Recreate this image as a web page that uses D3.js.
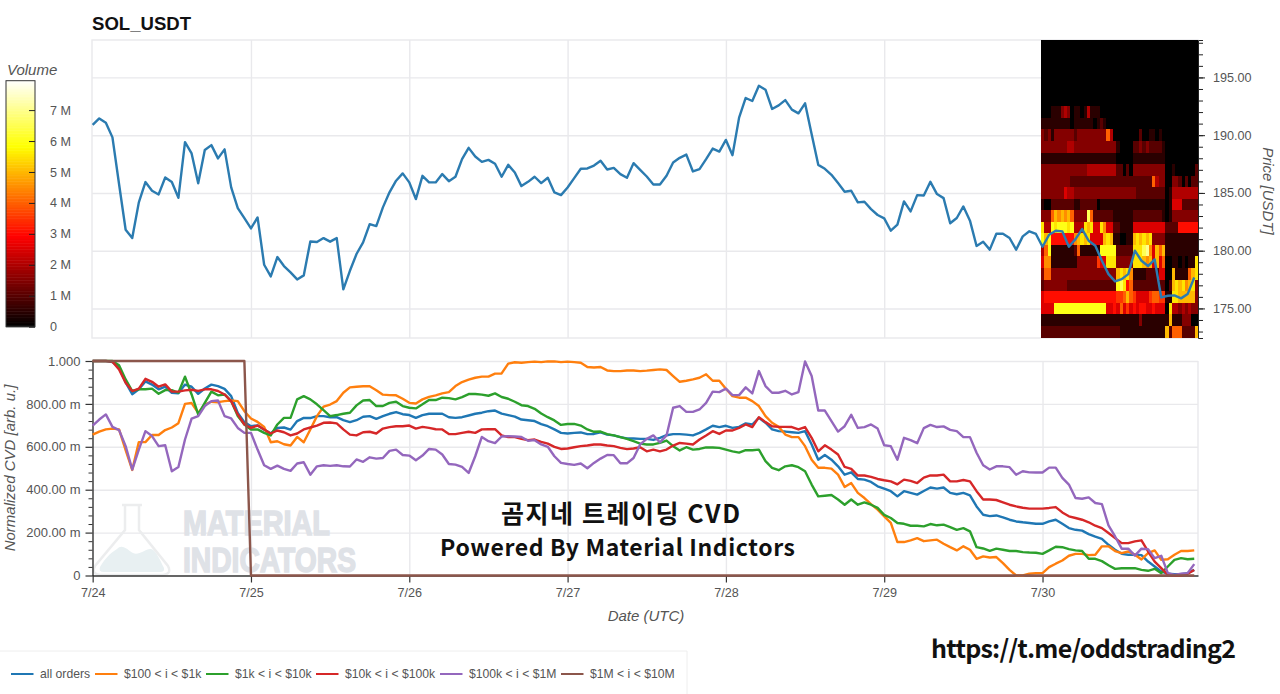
<!DOCTYPE html>
<html>
<head>
<meta charset="utf-8">
<script src="https://cdn.jsdelivr.net/npm/d3@7"></script>
<style>
  body { margin: 0; background: #fff; }
  svg { display: block; font-family: "Liberation Sans", Arial, sans-serif; }
</style>
</head>
<body>
<svg id="chart" width="1280" height="694"></svg>
<script>
const dayLabels = ['7/24', '7/25', '7/26', '7/27', '7/28', '7/29', '7/30']
const dayHours = [0, 24, 48, 72, 96, 120, 144]
const priceTicks = [175, 180, 185, 190, 195]
const priceMinorTicks = [173, 174, 175, 176, 177, 178, 179, 180, 181, 182, 183, 184, 185, 186, 187, 188, 189, 190, 191, 192, 193, 194, 195, 196, 197, 198]
const cvdTicks = [0, 0.2, 0.4, 0.6, 0.8, 1]
const cvdTickLabels = ['0', '200.00 m', '400.00 m', '600.00 m', '800.00 m', '1.000']
const cvdMinorTicks = [0.04, 0.08, 0.12, 0.16, 0.24, 0.28, 0.32, 0.36, 0.44, 0.48, 0.52, 0.56, 0.64, 0.68, 0.72, 0.76, 0.84, 0.88, 0.92, 0.96]
const volumeTicks = [0, 1, 2, 3, 4, 5, 6, 7]
const volumeLabels = ['0', '1 M', '2 M', '3 M', '4 M', '5 M', '6 M', '7 M']

// hourly close
const price = [
  190.90, 191.45, 191.08, 189.81, 185.77, 181.81, 181.09, 184.18, 185.94, 185.19,
  184.87, 186.34, 185.94, 184.58, 189.40, 188.42, 185.83, 188.71, 189.14, 187.99,
  188.77, 185.48, 183.69, 182.82, 181.93, 182.88, 178.78, 177.77, 179.45, 178.67,
  178.12, 177.51, 177.86, 180.80, 180.75, 181.09, 180.78, 181.09, 176.65, 178.26,
  179.71, 180.72, 182.30, 182.13, 183.75, 185.05, 186.06, 186.69, 185.91, 184.47,
  186.48, 185.91, 185.91, 186.63, 186.02, 186.40, 187.92, 188.90, 188.15, 187.69,
  187.86, 187.52, 186.40, 187.43, 186.77, 185.59, 185.96, 186.40, 185.85, 186.31,
  185.04, 184.81, 185.47, 186.28, 187.09, 187.12, 187.37, 187.78, 187.03, 187.17,
  186.63, 186.31, 187.58, 187.00, 186.42, 185.73, 185.73, 186.48, 187.63, 188.04,
  188.32, 186.86, 187.06, 187.92, 188.84, 188.58, 189.59, 188.27, 191.52, 193.22,
  192.96, 194.28, 193.94, 192.27, 192.58, 193.04, 192.21, 191.89, 192.76, 190.08,
  187.43, 187.09, 186.57, 185.85, 185.10, 185.19, 184.18, 184.24, 183.60, 183.09,
  182.80, 181.73, 182.25, 184.27, 183.40, 184.81, 184.78, 185.96, 184.90, 184.55,
  182.37, 182.83, 183.83, 182.60, 180.41, 180.78, 180.09, 181.47, 181.47, 181.10,
  180.09, 181.24, 181.68, 181.45, 180.34, 181.38, 181.72, 181.67, 180.34, 181.00,
  181.87, 180.86, 180.43, 179.13, 177.97, 177.34, 177.54, 177.97, 180.00, 179.13,
  178.67, 179.24, 175.95, 176.10, 176.13, 175.87, 176.24, 177.68
]

const allOrders = [
  1, 1, 1, .995, .97, .9, .845, .868, .905, .89, .868, .88, .852, .849, .89, .88, .847, .872, .89, .883,
  .87, .836, .758, .715, .696, .7, .68, .662, .688, .69, .68, .72, .735, .734, .743, .743, .738, .738, .724, .715,
  .724, .74, .743, .73, .743, .754, .762, .752, .748, .735,
  .748, .754, .754, .754, .738, .735, .738, .746, .754, .759, .766, .769, .755, .748, .741, .727, .724, .72, .706, .696,
  .681, .665, .662, .665, .667, .659, .66, .667, .657, .653, .645, .639, .639, .637, .637, .632, .642, .654, .659, .659,
  .657, .653, .665, .681, .698, .692, .698, .688, .693, .709, .704, .735, .712, .681, .673, .671, .668, .665, .673, .611, .54,
  .562, .54, .509, .47, .481, .45, .447, .436, .416, .405, .393, .369, .393, .385, .377, .394, .41, .405, .41, .385,
  .379, .385, .374, .322, .283, .277, .28, .271, .26, .252, .248, .245, .241, .241, .252, .26, .241, .221, .213, .209,
  .193, .181, .171, .143, .12, .101, .097, .097, .095, .065, .042, .019, .008, .006, .006, .011, .026
]
const orders100to1k = [
  .657, .671, .681, .685, .681, .585, .492, .622, .622, .655, .655, .678, .69, .71, .8, .804, .758, .797, .81, .808,
  .813, .816, .813, .766, .732, .716, .693, .621, .626, .612, .606, .646, .621, .681, .743, .787, .797, .813, .852, .877,
  .88, .882, .882, .864, .843, .841, .84, .824, .805, .802,
  .821, .833, .84, .849, .855, .883, .902, .913, .922, .927, .927, .941, .942, .988, .994, .992, .995, .997, .995, .998,
  .998, .995, .997, .995, .992, .972, .97, .972, .956, .953, .953, .956, .956, .953, .955, .958, .961, .958, .93, .903,
  .908, .914, .922, .938, .908, .908, .871, .836, .829, .829, .813, .79, .743, .712, .693, .657, .645, .645, .603, .54, .502,
  .502, .498, .47, .413, .431, .385, .361, .333, .307, .276, .245, .156, .156, .164, .174, .16, .164, .167, .148, .132,
  .117, .136, .12, .078, .089, .084, .086, .058, .026, 0, 0, .008, .011, .011, .039, .055, .07, .092, .101, .101,
  .095, .097, .136, .136, .114, .104, .112, .097, .075, .104, .117, .073, .076, .097, .114, .114, .117
]
const orders1kto10k = [
  1, 1, 1, 1, .98, .914, .86, .868, .868, .871, .847, .864, .864, .852, .927, .844, .751, .805, .857, .84,
  .844, .813, .743, .704, .681, .681, .665, .653, .704, .735, .735, .821, .836, .821, .798, .771, .743, .748, .754, .759,
  .793, .816, .818, .79, .79, .805, .81, .79, .782, .779,
  .798, .818, .818, .829, .827, .821, .832, .846, .846, .843, .838, .849, .832, .824, .81, .794, .79, .777, .755, .738,
  .723, .702, .706, .707, .699, .681, .67, .671, .659, .653, .645, .637, .626, .615, .611, .611, .618, .629, .603, .583,
  .598, .587, .59, .597, .597, .595, .587, .579, .573, .584, .584, .587, .533, .502, .491, .509, .514, .505, .486, .424, .369,
  .372, .375, .354, .33, .354, .33, .341, .33, .315, .283, .268, .245, .241, .232, .232, .229, .24, .234, .237, .226,
  .213, .221, .206, .132, .126, .115, .125, .12, .114, .114, .109, .107, .106, .101, .117, .134, .132, .123, .117, .114,
  .078, .078, .067, .048, .031, .034, .034, .034, .026, .022, .031, .011, .042, .073, .081, .076, .078
]
const orders10kto100k = [
  1, 1, 1, .997, .961, .899, .86, .871, .917, .903, .88, .891, .857, .857, .863, .866, .861, .868, .868, .86,
  .844, .813, .751, .704, .688, .699, .681, .662, .676, .668, .653, .662, .681, .69, .699, .712, .713, .709, .681, .657,
  .653, .668, .67, .662, .685, .692, .696, .696, .699, .685,
  .693, .688, .682, .681, .66, .659, .665, .67, .665, .681, .682, .682, .653, .645, .645, .637, .631, .634, .623, .615,
  .6, .59, .592, .598, .603, .606, .611, .611, .606, .603, .595, .589, .592, .598, .579, .587, .579, .587, .606, .618,
  .615, .611, .634, .653, .673, .66, .676, .676, .688, .704, .692, .738, .715, .696, .693, .693, .692, .681, .692, .642, .579,
  .607, .587, .564, .506, .497, .466, .466, .46, .45, .444, .439, .425, .447, .441, .431, .456, .467, .466, .47, .439,
  .439, .445, .439, .393, .354, .354, .352, .341, .33, .322, .316, .312, .312, .312, .315, .319, .294, .276, .268, .26,
  .248, .232, .221, .198, .174, .151, .151, .159, .164, .112, .065, .034, .003, 0, 0, .008, .026
]
const orders100kto1M = [
  .699, .727, .751, .693, .678, .603, .494, .587, .673, .65, .603, .607, .486, .506, .634, .731, .743, .79, .813, .816,
  .743, .732, .688, .665, .665, .587, .514, .497, .512, .497, .488, .522, .528, .47, .509, .514, .511, .514, .509, .508,
  .541, .53, .551, .545, .548, .581, .587, .562, .559, .537,
  .559, .59, .587, .564, .52, .517, .506, .478, .556, .646, .626, .617, .648, .65, .648, .646, .628, .631, .611, .6,
  .556, .525, .52, .516, .522, .5, .525, .545, .562, .561, .523, .523, .548, .611, .637, .653, .621, .653, .782, .79,
  .763, .763, .774, .805, .857, .855, .871, .841, .841, .877, .849, .953, .883, .852, .852, .861, .844, .855, .998, .93, .769,
  .769, .72, .671, .696, .749, .688, .692, .704, .685, .607, .603, .54, .642, .631, .617, .687, .702, .692, .695, .679,
  .673, .645, .645, .572, .514, .494, .509, .509, .505, .47, .486, .481, .48, .48, .503, .503, .455, .424, .361, .358,
  .364, .338, .333, .234, .182, .125, .125, .093, .125, .123, .081, .092, .011, .003, .008, .011, .053
]
const orders1Mto10M = [
  1, 1, 1, 1, 1, 1, 1, 1, 1, 1, 1, 1, 1, 1, 1, 1, 1, 1, 1, 1, 1, 1, 1, 1,
  0, 0, 0, 0, 0, 0, 0, 0, 0, 0, 0, 0, 0, 0, 0, 0, 0, 0, 0, 0, 0, 0, 0, 0,
  0, 0, 0, 0, 0, 0, 0, 0, 0, 0, 0, 0, 0, 0, 0, 0, 0, 0, 0, 0, 0, 0, 0, 0,
  0, 0, 0, 0, 0, 0, 0, 0, 0, 0, 0, 0, 0, 0, 0, 0, 0, 0, 0, 0, 0, 0, 0, 0,
  0, 0, 0, 0, 0, 0, 0, 0, 0, 0, 0, 0, 0, 0, 0, 0, 0, 0, 0, 0, 0, 0, 0, 0,
  0, 0, 0, 0, 0, 0, 0, 0, 0, 0, 0, 0, 0, 0, 0, 0, 0, 0, 0, 0, 0, 0, 0, 0,
  0, 0, 0, 0, 0, 0, 0, 0, 0, 0, 0, 0, 0, 0, 0, 0, 0, 0, 0, 0, 0, 0, 0, 0
]
const seriesNames = ['all orders', '$100 < i < $1k', '$1k < i < $10k', '$10k < i < $100k', '$100k < i < $1M', '$1M < i < $10M']
const seriesColors = ['#1f77b4', '#ff7f0e', '#2ca02c', '#d62728', '#9467bd', '#8c564b']
const seriesValues = [allOrders, orders100to1k, orders1kto10k, orders10kto100k, orders100kto1M, orders1Mto10M]

// order book heatmap: price level of each row, one hex digit per half hour (unit = 0.5 M)
const heatPrices = [198, 197, 196, 195, 194, 193, 192, 191, 190, 189, 188, 187, 186, 185, 184, 183, 182, 181, 180, 179, 178, 177, 176, 175, 174, 173, 172]
const heatRows = [
  '000000000000 000000000000 000000000000 000000000000',
  '000000000000 000000000000 000000000000 000000000000',
  '000000000000 000000000000 000000000000 000000000000',
  '000000000000 000000000000 000000000000 000000000000',
  '000000000000 000000000000 000000000000 000000000000',
  '000000000000 000000000000 000000000000 000000000000',
  '000111343011 014111000000 000000000000 000000000000',
  '111111111011 111101210000 000000000000 000000000000',
  '323133333323 333333338400 000000200110 100000000000',
  '333333334433 333333333331 000022323222 210000000000',
  '111111111111 111111111110 000011111111 110000000000',
  '333333333333 334444444442 202033333333 330010000002',
  '333333333222 222222222222 222222222284 330033202022',
  '333333354433 333333333333 333332222222 220144444444',
  '100222222211 222220111111 111111111111 110155522222',
  '3338a9a9a833 33d822222211 111122222222 210133333333',
  'b44cbcccbc44 4bab55b95522 111155555555 552222666666',
  'cac66666669a bab5555aba11 0011ababab33 331111111111',
  '48c111111128 111111ccccc2 2222bbbde95a 8a1111111111',
  '599111111113 33333755bbb3 3333bbba9a5a 58001101011b',
  '388333333333 33333333333a bab911112222 5500a11118ab',
  '233333332222 22222222222c db6822222222 2202abab9ab3',
  '566666666666 666666666667 78a875555788 7711bbaaaaa3',
  '5555cccccccc cccccccc5565 857565665565 550b44343433',
  '111111111111 111111111111 111111311111 111a11133300',
  '222222222222 222222222222 111111111111 11a28882222a',
  '222222222222 222222222222 111111111111 11a28882222a'
]

const svg = d3.select('#chart')

const x = d3.scaleLinear().domain([-0.1, 167.57]).range([92, 1198])
const yPrice = d3.scaleLinear().domain([172.44, 198.24]).range([338, 40])
const yCvd = d3.scaleLinear().domain([0, 1]).range([575.5, 361])
const yVolume = d3.scaleLinear().domain([0, 7.95]).range([326.7, 80.7])
const textColor = '#555'
const gridColor = '#e9e9ec'

// hot colormap
const hot = d3.scaleLinear()
  .domain([0, 2.9, 5.8, 7.95])
  .range(['#000000', '#ff0000', '#ffff00', '#ffffff'])

function styleGrid(g) {
  g.select('.domain').remove()
  g.selectAll('text').remove()
  g.selectAll('line').attr('stroke', gridColor).attr('stroke-width', 1.4)
}

// frames and grid
svg.append('rect')
  .attr('x', 92).attr('y', 40).attr('width', 1106).attr('height', 298)
  .attr('fill', 'none').attr('stroke', gridColor).attr('stroke-width', 1.4)

svg.append('g')
  .attr('transform', 'translate(0,338)')
  .call(d3.axisBottom(x).tickValues(dayHours.slice(1)).tickSize(-298))
  .call(styleGrid)

svg.append('g')
  .attr('transform', 'translate(92,0)')
  .call(d3.axisRight(yPrice).tickValues(priceTicks).tickSize(1106))
  .call(styleGrid)

svg.append('g')
  .attr('transform', 'translate(0,575.5)')
  .call(d3.axisBottom(x).tickValues(dayHours.slice(1)).tickSize(-214.5))
  .call(styleGrid)

svg.append('g')
  .attr('transform', 'translate(92,0)')
  .call(d3.axisRight(yCvd).tickValues(cvdTicks.slice(1)).tickSize(1106))
  .call(styleGrid)

svg.append('line')
  .attr('x1', 1198).attr('x2', 1198).attr('y1', 361).attr('y2', 575.5)
  .attr('stroke', gridColor).attr('stroke-width', 1.4)

// heatmap
const heatDefs = svg.append('defs')
heatDefs.append('clipPath').attr('id', 'heat-clip')
  .append('rect').attr('x', x(143.78)).attr('y', 40).attr('width', x(167.57) - x(143.78)).attr('height', 298)
heatDefs.append('filter').attr('id', 'heat-soft')
  .append('feGaussianBlur').attr('stdDeviation', 0.55)

const heatX = d3.scaleBand()
  .domain(d3.range(48))
  .range([x(143.78), x(167.57)])

const heatCells = heatRows.flatMap((row, r) =>
  row.replace(/ /g, '').split('').map((c, col) => ({
    col: col,
    level: heatPrices[r],
    volume: parseInt(c, 16) * 0.5
  })))

svg.append('g')
  .attr('clip-path', 'url(#heat-clip)')
  .append('g')
  .attr('filter', 'url(#heat-soft)')
  .attr('shape-rendering', 'crispEdges')
  .selectAll('rect')
  .data(heatCells)
  .enter()
  .append('rect')
  .attr('x', d => heatX(d.col))
  .attr('y', d => yPrice(d.level + 0.5))
  .attr('width', heatX.bandwidth() + 1)
  .attr('height', d => yPrice(d.level - 0.5) - yPrice(d.level + 0.5) + 1)
  .attr('fill', d => hot(d.volume))

// price line
const priceLine = d3.line().x((d, i) => x(i)).y(d => yPrice(d))

svg.append('path')
  .datum(price)
  .attr('d', priceLine)
  .attr('fill', 'none')
  .attr('stroke', '#2b7bb0')
  .attr('stroke-width', 2.4)
  .attr('stroke-linejoin', 'round')

// price axis
const priceMinor = svg.append('g')
  .attr('transform', 'translate(1198,0)')
  .call(d3.axisRight(yPrice).tickValues(priceMinorTicks).tickSize(5).tickFormat(''))
priceMinor.select('.domain').attr('stroke', '#222').attr('stroke-width', 1)
priceMinor.selectAll('line').attr('stroke', '#222')

const priceMajor = svg.append('g')
  .attr('transform', 'translate(1198,0)')
  .call(d3.axisRight(yPrice).tickValues(priceTicks).tickSize(7).tickPadding(8).tickFormat(d3.format('.2f')))
priceMajor.select('.domain').remove()
priceMajor.selectAll('line').attr('stroke', '#222')
priceMajor.selectAll('text')
  .attr('fill', textColor).attr('font-size', 12.6).attr('font-family', '"Liberation Sans"')

svg.append('text')
  .attr('transform', 'translate(1263,191) rotate(90)')
  .attr('text-anchor', 'middle')
  .attr('font-size', 15).attr('font-style', 'italic').attr('fill', textColor)
  .text('Price [USDT]')

svg.append('text')
  .attr('x', 92).attr('y', 30)
  .attr('font-size', 18).attr('font-weight', 'bold').attr('fill', '#111')
  .attr('textLength', 99).attr('lengthAdjust', 'spacingAndGlyphs')
  .text('SOL_USDT')

// colour bar
svg.append('text')
  .attr('x', 7).attr('y', 75)
  .attr('font-size', 15).attr('font-style', 'italic').attr('fill', textColor)
  .text('Volume')

const barSteps = d3.range(0, 7.95, 0.05)
svg.append('g')
  .selectAll('rect')
  .data(barSteps)
  .enter()
  .append('rect')
  .attr('x', 6)
  .attr('width', 29)
  .attr('y', d => yVolume(d + 0.05))
  .attr('height', d => yVolume(d) - yVolume(d + 0.05) + 0.5)
  .attr('fill', d => hot(d))

svg.append('rect')
  .attr('x', 6).attr('y', 80.7).attr('width', 29).attr('height', 246)
  .attr('fill', 'none').attr('stroke', '#333').attr('stroke-width', 1)

const volumeAxis = svg.append('g')
  .attr('transform', 'translate(35,0)')
  .call(d3.axisRight(yVolume).tickValues(volumeTicks).tickSizeInner(-6).tickSizeOuter(0).tickPadding(15)
    .tickFormat((d, i) => volumeLabels[i]))
volumeAxis.select('.domain').remove()
volumeAxis.selectAll('line').attr('stroke', '#222')
volumeAxis.selectAll('text')
  .attr('fill', textColor).attr('font-size', 12.6).attr('font-family', '"Liberation Sans"')

// watermark
const mark = svg.append('g')
mark.append('path')
  .attr('d', 'M117 549 C122 543 128 550 133 553 C139 556 146 548 151 549 C156 550 160 560 164 568 Q165 572 160 572 L104 572 Q98 572 100 567 C104 560 110 553 117 549 Z')
  .attr('fill', '#e8f0f2')
mark.append('path')
  .attr('d', 'M122 505 L142 505 M125 505 L125 530 L95 566 Q91 574 100 575 L163 575 Q172 574 168 566 L139 530 L139 505')
  .attr('fill', 'none').attr('stroke', '#ecedee').attr('stroke-width', 2.5)
mark.append('text')
  .attr('x', 183).attr('y', 535)
  .attr('font-size', 35).attr('font-weight', 'bold').attr('fill', '#dfe2e7')
  .attr('stroke', '#dfe2e7').attr('stroke-width', 1.5)
  .attr('textLength', 147).attr('lengthAdjust', 'spacingAndGlyphs')
  .text('MATERIAL')
mark.append('text')
  .attr('x', 183).attr('y', 571.5)
  .attr('font-size', 35).attr('font-weight', 'bold').attr('fill', '#dfe2e7')
  .attr('stroke', '#dfe2e7').attr('stroke-width', 1.5)
  .attr('textLength', 173).attr('lengthAdjust', 'spacingAndGlyphs')
  .text('INDICATORS')

// cvd axes
const cvdMinor = svg.append('g')
  .attr('transform', 'translate(92.5,0)')
  .call(d3.axisLeft(yCvd).tickValues(cvdMinorTicks).tickSize(4).tickFormat(''))
cvdMinor.select('.domain').remove()
cvdMinor.selectAll('line').attr('stroke', '#333')

const cvdAxis = svg.append('g')
  .attr('transform', 'translate(92.5,0)')
  .call(d3.axisLeft(yCvd).tickValues(cvdTicks).tickSizeInner(7).tickSizeOuter(0).tickPadding(5)
    .tickFormat((d, i) => cvdTickLabels[i]))
cvdAxis.select('.domain').attr('stroke', '#333').attr('stroke-width', 1.4)
cvdAxis.selectAll('line').attr('stroke', '#333').attr('stroke-width', 1.2)
cvdAxis.selectAll('text')
  .attr('fill', textColor).attr('font-size', 13).attr('font-family', '"Liberation Sans"')

const timeAxis = svg.append('g')
  .attr('transform', 'translate(0,575.5)')
  .call(d3.axisBottom(x).tickValues(dayHours).tickSizeInner(7).tickSizeOuter(0).tickPadding(6)
    .tickFormat((d, i) => dayLabels[i]))
timeAxis.select('.domain').attr('stroke', '#333').attr('stroke-width', 1.6)
timeAxis.selectAll('line').attr('stroke', '#333').attr('stroke-width', 1.2)
timeAxis.selectAll('text')
  .attr('fill', textColor).attr('font-size', 12.6).attr('font-family', '"Liberation Sans"')

svg.append('text')
  .attr('transform', 'translate(15,468) rotate(-90)')
  .attr('text-anchor', 'middle')
  .attr('font-size', 15).attr('font-style', 'italic').attr('fill', textColor)
  .text('Normalized CVD [arb. u.]')

svg.append('text')
  .attr('x', 646).attr('y', 621)
  .attr('text-anchor', 'middle')
  .attr('font-size', 15).attr('font-style', 'italic').attr('fill', textColor)
  .text('Date (UTC)')

// cvd lines
const cvdLine = d3.line().x((d, i) => x(i)).y(d => yCvd(d))

svg.append('g')
  .selectAll('path')
  .data(seriesValues)
  .enter()
  .append('path')
  .attr('d', d => cvdLine(d))
  .attr('fill', 'none')
  .attr('stroke', (d, i) => seriesColors[i])
  .attr('stroke-width', 2.4)
  .attr('stroke-linejoin', 'round')

// captions on top of the picture
const captionFont = '"Noto Sans CJK KR", "Noto Sans", sans-serif'
svg.append('text')
  .attr('x', 501).attr('y', 523)
  .attr('font-family', captionFont).attr('font-size', 25).attr('font-weight', 700).attr('fill', '#111')
  .attr('textLength', 239)
  .text('곰지네 트레이딩 CVD')
svg.append('text')
  .attr('x', 440).attr('y', 556)
  .attr('font-family', captionFont).attr('font-size', 23).attr('font-weight', 700).attr('fill', '#111')
  .attr('textLength', 355)
  .text('Powered By Material Indictors')
svg.append('text')
  .attr('x', 931).attr('y', 658)
  .attr('font-family', captionFont).attr('font-size', 25).attr('font-weight', 700).attr('fill', '#111')
  .attr('textLength', 305)
  .text('https://t.me/oddstrading2')

// legend
svg.append('path')
  .attr('d', 'M0 651 L687 651 L687 694')
  .attr('fill', 'none').attr('stroke', '#eeeeee').attr('stroke-width', 1)

const legendStarts = [11, 95, 206, 316, 440, 561]

const legendItem = svg.append('g')
  .selectAll('g')
  .data(seriesNames)
  .enter()
  .append('g')
  .attr('transform', (d, i) => `translate(${legendStarts[i]},674)`)

legendItem.append('line')
  .attr('x1', 0).attr('x2', 22.5)
  .attr('stroke', (d, i) => seriesColors[i])
  .attr('stroke-width', 2)

legendItem.append('text')
  .attr('x', 29).attr('y', 4.2)
  .attr('font-size', 12.2).attr('fill', textColor)
  .text(d => d)
</script>
</body>
</html>
